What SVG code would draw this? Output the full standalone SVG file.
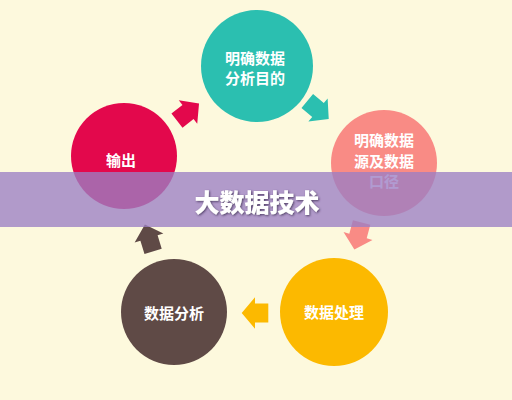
<svg xmlns="http://www.w3.org/2000/svg" width="512" height="400" viewBox="0 0 512 400">
<defs>
<style>
.lbl{font-family:"Noto Sans CJK SC","Noto Sans",sans-serif;font-weight:700;font-size:15px;fill:#ffffff;text-anchor:middle;dominant-baseline:central}
.title{font-family:"Noto Sans CJK SC","Noto Sans",sans-serif;font-weight:900;font-size:25px;fill:#ffffff;text-anchor:middle;dominant-baseline:central}
</style>
<path id="arr" d="M-14,-9 L0,-9 L0,-15 L14,0 L0,15 L0,9 L-14,9 Z"/>
<filter id="sh" x="-10%" y="-30%" width="120%" height="160%">
<feGaussianBlur in="SourceAlpha" stdDeviation="1.2"/>
<feOffset dx="0.5" dy="1" result="b"/>
<feFlood flood-color="#3a2a50" flood-opacity="0.8"/>
<feComposite in2="b" operator="in"/>
<feMerge><feMergeNode/><feMergeNode in="SourceGraphic"/></feMerge>
</filter>
</defs>
<rect width="512" height="400" fill="#fdf9dd"/>
<g id="connectors">
<use href="#arr" fill="#e3084c" transform="translate(188,112) rotate(-38)"/>
<use href="#arr" fill="#2bbfb0" transform="translate(318,110) rotate(40)"/>
<use href="#arr" fill="#f98b85" transform="translate(358,236) rotate(105)"/>
<use href="#arr" fill="#fcb900" transform="translate(255,313) rotate(180) scale(0.95,1.05)"/>
<use href="#arr" fill="#5f4a46" transform="translate(149,238) rotate(-107)"/>
</g>
<g id="node-goal">
<circle cx="257" cy="66" r="56" fill="#2bbfb0"/>
<text class="lbl" x="255" y="57">明确数据</text>
<text class="lbl" x="255" y="77.5">分析目的</text>
</g>
<g id="node-source">
<circle cx="384" cy="163" r="53" fill="#f98b85"/>
<text class="lbl" x="384" y="139.5">明确数据</text>
<text class="lbl" x="384" y="160">源及数据</text>
<text class="lbl" x="384" y="180.5">口径</text>
</g>
<g id="node-process">
<circle cx="334" cy="312" r="54" fill="#fcb900"/>
<text class="lbl" x="334" y="311">数据处理</text>
</g>
<g id="node-analysis">
<circle cx="174" cy="312" r="53" fill="#5f4a46"/>
<text class="lbl" x="174" y="312">数据分析</text>
</g>
<g id="node-output">
<circle cx="124" cy="156" r="53" fill="#e3084c"/>
<text class="lbl" x="121" y="159">输出</text>
</g>
<g id="banner">
<rect x="0" y="172" width="512" height="55" fill="#9b7fc4" fill-opacity="0.78"/>
<text class="title" x="257" y="201" filter="url(#sh)">大数据技术</text>
</g>
</svg>
